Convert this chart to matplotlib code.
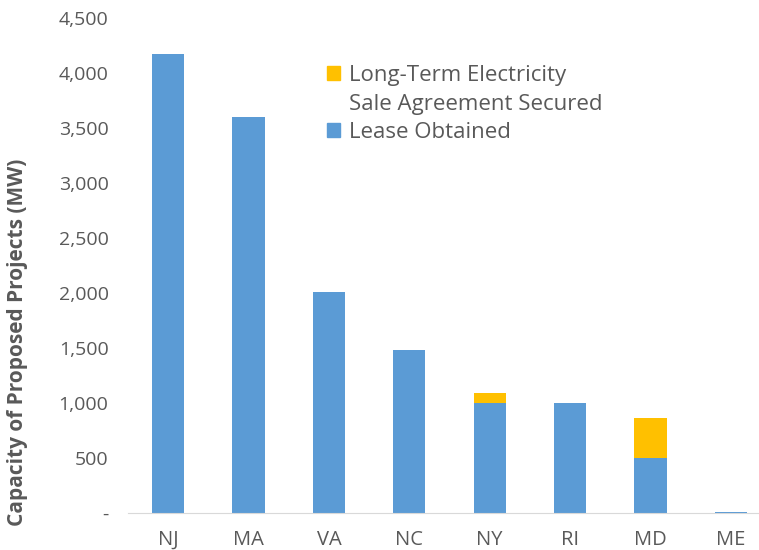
import matplotlib.pyplot as plt
from matplotlib.patches import Patch
import numpy as np

plt.rcParams['font.family'] = ['Open Sans', 'DejaVu Sans']

states = ['NJ', 'MA', 'VA', 'NC', 'NY', 'RI', 'MD', 'ME']
lease = [4170, 3600, 2010, 1485, 1000, 1000, 500, 12]
sale = [0, 0, 0, 0, 88, 0, 365, 0]
yticks = [0, 500, 1000, 1500, 2000, 2500, 3000, 3500, 4000, 4500]

blue = '#5B9BD5'
yellow = '#FFC000'
grey = '#595959'

fig = plt.figure(figsize=(7.59, 5.5), dpi=100)
ax = fig.add_axes([128/759, 1-513/550, (771-128)/759, (513-18)/550])

x = np.arange(len(states))
ax.bar(x, lease, width=0.4, color=blue, label='Lease Obtained')
ax.bar(x, sale, width=0.4, bottom=lease, color=yellow,
       label='Long-Term Electricity\nSale Agreement Secured')

ax.set_xlim(-0.5, len(states) - 0.5)
ax.set_ylim(0, 4500)
ax.set_xticks(x)
ax.set_xticklabels(states)
ax.set_yticks(yticks)
ax.set_yticklabels(['-' if v == 0 else f'{v:,}' for v in yticks])
ax.tick_params(length=0, colors=grey)
ax.tick_params(axis='x', pad=12, labelsize=14.5)
ax.tick_params(axis='y', pad=14, labelsize=14)

for s in ['top', 'right', 'left']:
    ax.spines[s].set_visible(False)
ax.spines['bottom'].set_color('#D9D9D9')

fig.text(18/759, 1-342/550, 'Capacity of Proposed Projects (MW)', rotation=90,
         ha='center', va='center', fontsize=15, fontweight='bold', color=grey)

handles = [Patch(color=yellow), Patch(color='none'), Patch(color=blue)]
labels = ['Long-Term Electricity', 'Sale Agreement Secured', 'Lease Obtained']
leg = ax.legend(handles, labels, loc='upper left', bbox_to_anchor=(0.278, 0.945),
                frameon=False, fontsize=16, handlelength=0.6, handleheight=0.6,
                handletextpad=0.4, labelspacing=0.33, labelcolor=grey)

fig.savefig('out.png', dpi=100)
